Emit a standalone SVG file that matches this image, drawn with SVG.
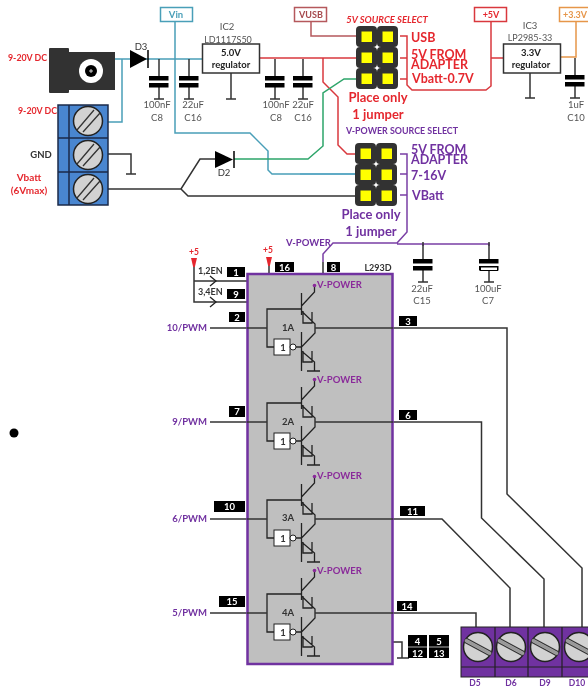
<svg xmlns="http://www.w3.org/2000/svg" xmlns:xlink="http://www.w3.org/1999/xlink" width="588" height="687" viewBox="0 0 588 687">
<style>
text{font-family:"Lato","Open Sans","Liberation Sans",sans-serif;font-weight:700}
.m{text-anchor:middle}.e{text-anchor:end}
.w{fill:none;stroke-width:1.5;stroke-linejoin:miter}
.k{stroke:#333}.t{stroke:#4a9fb8}.r{stroke:#d9383e}.g{stroke:#2ea56a}.p{stroke:#7a3fa5}.o{stroke:#e6964a}.v{stroke:#b5585c}.b2{stroke:#2b8fb3}
.red{fill:#e5282e}.pur{fill:#7030a0}.mag{fill:#8a2a9a;font-size:9.5px}
.val{fill:#555;font-size:9.5px;font-weight:400}.blk{fill:#333}
.bad{fill:#000}.bt{fill:#fff;font-size:9.5px;text-anchor:middle}
.box{fill:#fff;stroke-width:1.5}
.h1{font-size:12.5px}.h2{font-size:13px}
</style>
<defs>
<filter id="soft" x="0" y="0" width="100%" height="100%"><feGaussianBlur stdDeviation="0.35"/></filter>
<g id="screw"><circle r="14.5" fill="#d2d2d2" stroke="#222" stroke-width="1.5"/><path d="M-11 9 6-11M-5 11 12-8" stroke="#333" stroke-width="1.3" fill="none"/></g>
<g id="screw2"><circle r="14.5" fill="#d2d2d2" stroke="#222" stroke-width="1.5"/><path d="M-13-7 13 7" stroke="#999" stroke-width="3"/><path d="M-14-5 12 9M-12-9 14 5" stroke="#333" stroke-width="1.3" fill="none"/></g>
<g id="cap"><path d="M0 0V18M0 28V40M-5 40H5" fill="none" stroke="#333" stroke-width="1.5"/><rect x="-10" y="17" width="19.500" height="4.500" fill="#000"/><rect x="-10" y="24" width="19.500" height="4.500" fill="#000"/></g>
<g id="hdr"><rect x="-11" y="-11" width="21" height="21" rx="4" fill="#333"/><rect x="-5.500" y="-5.500" width="10.500" height="10.500" fill="#ffff00"/></g>
<g id="unit">
<path d="M267 328V309H301M267 328V347H274M296 347H301" fill="none" stroke="#222" stroke-width="1.3"/>
<rect x="274" y="339" width="16" height="16" fill="#fff" stroke="#222"/>
<circle cx="293" cy="347" r="3" fill="#fff" stroke="#222"/>
<path d="M301.500 293V315M301.500 332V371M301.500 306 314.500 292V286M301.500 311 315 324V333L301.500 347M301.500 351 314.500 362V371M307 371H320M303 311V323H312V312M303 351V362H312V351" fill="none" stroke="#222" stroke-width="1.300"/>
<circle cx="314.500" cy="285.500" r="1.800" fill="#8a2a9a"/>
</g>
<path id="ch" d="M-6-5 0 0-6 5" fill="none" stroke="#222" stroke-width="1.300"/>
<path id="arr" d="M-3-5H3L.8 4H-.8Z" fill="#e5282e"/>
</defs>
<g filter="url(#soft)">
<rect width="588" height="687" fill="#fff"/>
<circle id="dot" cx="14" cy="433" r="4.500" fill="#000"/>

<g id="connectors">
<path class="w t" d="M115 59H203M122 59V122H108"/>
<path class="w t" d="M175 22V133H250L268 151V170L272 174H300"/>
<path class="w b2" d="M300 174H357"/>
<path class="w r" d="M260 58H357M323 58V82L338 97V145L347 154H357"/>
<path class="w g" d="M234 159H308L323 146V93L344 79H357"/>
<path class="w k" d="M108 189H181L200 159H215M181 189 188 196H357"/>
<path class="w k" d="M108 154H131V174M126 174H136"/>
<path class="w v" d="M311 22V36H357"/>
<path class="w r" d="M400 36H407V85L412 90H486L491 86V22M400 58H407M400 79H407M491 58H503"/>
<path class="w o" d="M560 57H576V22"/>
<path class="w p" d="M400 154H407V232L397 243H333L323 254V262M407 174H400M407 195H400M397 244H489V246M423 244V246"/>
<path class="w k" d="M269 263V274M323 262V274M194 265V302H247M194 281H247M210 328H247M210 422H247M210 519H247M210 613H247"/>
<path class="w k" d="M393 642H402V658M397 658H409"/>
<path class="w k" d="M393 328H507V494L582 568V627M393 422H481.500V518L544 579V627M393 519H442L510 588V627M393 613H476V627"/>
</g>

<g id="power-jack"><rect x="49" y="48" width="20" height="45" rx="1" fill="#333"/><rect x="69" y="52" width="46" height="38" fill="#333"/><circle cx="91" cy="71" r="12" fill="#fff"/><circle cx="91" cy="71" r="6" fill="#000"/><path d="M91 69v4M89 71h4" stroke="#fff" stroke-width=".8"/>
<text x="8" y="61" class="red" font-size="8.800">9-20V DC</text></g>

<g id="terminal-blue"><rect x="58" y="105" width="50" height="100" fill="#4a86d0" stroke="#1a2a4a" stroke-width="1.500"/><path d="M69 105V205M58 138H108M58 172H108" stroke="#1a2a4a" stroke-width="1.500"/>
<use href="#screw" x="88" y="121"/><use href="#screw" x="88" y="155"/><use href="#screw" x="88" y="189"/>
<text x="18" y="113.500" class="red" font-size="8.800">9-20V DC</text>
<text x="41" y="158" class="m blk" font-size="9.500">GND</text>
<text x="29" y="181" class="m red" font-size="10">Vbatt</text>
<text x="29" y="194" class="m red" font-size="10">(6Vmax)</text></g>

<g id="D3"><path d="M130 50 147 59 130 68Z" fill="#000"/><path d="M148 50V68" stroke="#000" stroke-width="1.500"/><text x="141" y="50" class="m" fill="#333" font-size="9.500" style="font-weight:400">D3</text></g>
<g id="D2"><path d="M215 151 233 159.500 215 168Z" fill="#000"/><path d="M234 151V168" stroke="#000" stroke-width="1.500"/><text x="224" y="176" class="m" fill="#333" font-size="9.500" style="font-weight:400">D2</text></g>

<g id="Vin"><rect x="160.500" y="7.500" width="32" height="14" class="box t"/><text x="176" y="18" class="m" fill="#4a9fb8" font-size="9.500">Vin</text></g>
<g id="VUSB"><rect x="294.500" y="7.500" width="32" height="14" class="box v"/><text x="311" y="18" class="m" fill="#a5484c" font-size="9">VUSB</text></g>
<g id="p5V"><rect x="474.500" y="7.500" width="32" height="14" class="box r"/><text x="491" y="18" class="m red" font-size="9">+5V</text></g>
<g id="p3V3"><rect x="559.500" y="7.500" width="32" height="14" class="box o"/><text x="575" y="18" class="m" fill="#e6964a" font-size="9">+3.3V</text></g>

<g id="IC2"><text x="227" y="30" class="m val">IC2</text><text x="228" y="42.500" class="m val" style="font-size:9px">LD1117S50</text><rect x="202.500" y="44" width="57" height="29" class="box" stroke="#333"/><text x="231" y="56" class="m" fill="#222" font-size="9.500">5.0V</text><text x="231" y="68" class="m" fill="#222" font-size="9.500">regulator</text><path class="w k" d="M231 73V99M226 99H236"/></g>
<g id="IC3"><text x="530" y="29" class="m val">IC3</text><text x="530" y="41" class="m val" style="font-size:9px">LP2985-33</text><rect x="503.500" y="44" width="57" height="29" class="box" stroke="#333"/><text x="531" y="56" class="m" fill="#222" font-size="9.500">3.3V</text><text x="531" y="68" class="m" fill="#222" font-size="9.500">regulator</text><path class="w k" d="M530 73V98M525 98H535"/></g>

<g id="C8a"><use href="#cap" x="159" y="59"/><text x="157" y="108" class="m val">100nF</text><text x="157" y="121" class="m val">C8</text></g>
<g id="C16a"><use href="#cap" x="189" y="59"/><text x="193" y="108" class="m val">22uF</text><text x="193" y="121" class="m val">C16</text></g>
<g id="C8b"><use href="#cap" x="275" y="59"/><text x="276" y="108" class="m val">100nF</text><text x="276" y="121" class="m val">C8</text></g>
<g id="C16b"><use href="#cap" x="303" y="59"/><text x="303" y="108" class="m val">22uF</text><text x="303" y="121" class="m val">C16</text></g>
<g id="C10"><use href="#cap" x="575" y="58"/><text x="576" y="108" class="m val">1uF</text><text x="576" y="121" class="m val">C10</text></g>
<g id="C15"><use href="#cap" x="423" y="242"/><text x="422" y="292" class="m val">22uF</text><text x="422" y="304" class="m val">C15</text></g>
<g id="C7"><use href="#cap" x="489" y="242"/><rect x="480.500" y="267" width="17" height="3.500" fill="#fff" stroke="#000"/><text x="488" y="292" class="m val">100uF</text><text x="488" y="304" class="m val">C7</text></g>

<g id="header-5v"><use href="#hdr" x="367" y="37"/><use href="#hdr" x="388" y="37"/><use href="#hdr" x="367" y="58"/><use href="#hdr" x="388" y="58"/><use href="#hdr" x="367" y="79"/><use href="#hdr" x="388" y="79"/>
<text x="387" y="23" class="m red" font-size="9.500" font-style="italic">5V SOURCE SELECT</text>
<text x="411" y="41.500" class="red h1">USB</text><text class="red h1"><tspan x="411" y="58.500">5V FROM</tspan><tspan x="411" y="68.500">ADAPTER</tspan></text><text x="412" y="83" class="red h1">Vbatt-0.7V</text>
<text x="378" y="102" class="m red h2">Place only</text><text x="378" y="119" class="m red h2">1 jumper</text></g>

<g id="header-vpower"><use href="#hdr" x="366" y="154"/><use href="#hdr" x="387" y="154"/><use href="#hdr" x="366" y="175"/><use href="#hdr" x="387" y="175"/><use href="#hdr" x="366" y="196"/><use href="#hdr" x="387" y="196"/>
<text x="402" y="134" class="m pur" font-size="8.900">V-POWER SOURCE SELECT</text>
<text class="pur h1"><tspan x="411" y="154">5V FROM</tspan><tspan x="411" y="164">ADAPTER</tspan></text><text x="411" y="180" class="pur h1">7-16V</text><text x="412" y="200" class="pur h1">VBatt</text>
<text x="371" y="219" class="m pur h2">Place only</text><text x="371" y="236" class="m pur h2">1 jumper</text></g>

<g id="L293D"><rect x="247.500" y="274" width="145" height="390" fill="#bfbfbf" stroke="#7030a0" stroke-width="2.500"/>
<use href="#unit"/><use href="#unit" y="94"/><use href="#unit" y="191"/><use href="#unit" y="285"/>
<path class="w k" d="M247 328H267M247 422H267M247 519H267M247 613H267M315 328H393M315 422H393M315 519H393M315 613H393"/>
<use href="#ch" x="216" y="281"/><use href="#ch" x="216" y="302"/>
<use href="#arr" x="194" y="263"/><use href="#arr" x="269" y="262"/>
<text x="194" y="255" class="m red" font-size="8.500">+5</text><text x="268" y="253" class="m red" font-size="8.500">+5</text>
<text x="198" y="274" class="blk" font-size="9">1,2EN</text><text x="198" y="295" class="blk" font-size="9">3,4EN</text>
<text x="286" y="246" class="pur" font-size="9.500">V-POWER</text>
<text x="378" y="271" class="m blk" font-size="9">L293D</text>
<text x="317" y="288" class="mag">V-POWER</text><text x="317" y="383" class="mag">V-POWER</text><text x="317" y="479" class="mag">V-POWER</text><text x="317" y="574" class="mag">V-POWER</text>
<text x="288" y="331" class="m blk" font-size="9.500">1A</text><text x="288" y="425" class="m blk" font-size="9.500">2A</text><text x="288" y="521" class="m blk" font-size="9.500">3A</text><text x="288" y="616" class="m blk" font-size="9.500">4A</text>
<text x="283" y="351" class="m blk" font-size="9.500">1</text><text x="283" y="445" class="m blk" font-size="9.500">1</text><text x="283" y="542" class="m blk" font-size="9.500">1</text><text x="283" y="636" class="m blk" font-size="9.500">1</text>
<text x="207" y="331" class="e pur" font-size="9.500">10/PWM</text><text x="207" y="425" class="e pur" font-size="9.500">9/PWM</text><text x="207" y="522" class="e pur" font-size="9.500">6/PWM</text><text x="207" y="616" class="e pur" font-size="9.500">5/PWM</text>
<rect class="bad" x="227" y="267" width="18" height="10"/><text class="bt" x="236" y="275.500">1</text>
<rect class="bad" x="227" y="289" width="18" height="10"/><text class="bt" x="236" y="297.500">9</text>
<rect class="bad" x="275" y="262" width="19" height="10"/><text class="bt" x="284.500" y="270.500">16</text>
<rect class="bad" x="327" y="262" width="13" height="10"/><text class="bt" x="333.500" y="270.500">8</text>
<rect class="bad" x="229" y="312" width="16" height="10"/><text class="bt" x="237" y="320.500">2</text>
<rect class="bad" x="229" y="406" width="16" height="11"/><text class="bt" x="237" y="415">7</text>
<rect class="bad" x="214" y="501" width="31" height="11"/><text class="bt" x="229.500" y="510">10</text>
<rect class="bad" x="219" y="596" width="26" height="11"/><text class="bt" x="232" y="605">15</text>
<rect class="bad" x="399" y="316" width="18" height="10"/><text class="bt" x="408" y="324.500">3</text>
<rect class="bad" x="399" y="410" width="18" height="10"/><text class="bt" x="408" y="418.500">6</text>
<rect class="bad" x="400" y="506" width="25" height="10"/><text class="bt" x="412.500" y="514.500">11</text>
<rect class="bad" x="397" y="601" width="20" height="10"/><text class="bt" x="407" y="609.500">14</text>
<rect class="bad" x="408" y="635" width="19" height="23"/><rect class="bad" x="429" y="635" width="20" height="23"/><path d="M408 647H449" stroke="#fff" stroke-width=".7"/>
<text class="bt" x="417.500" y="645">4</text><text class="bt" x="417.500" y="656.500">12</text><text class="bt" x="439" y="645">5</text><text class="bt" x="439" y="656.500">13</text>
</g>

<g id="terminal-purple"><rect x="461" y="627" width="130" height="50" fill="#7030a0" stroke="#222"/><path d="M495 627V677M528 627V677M562 627V677M461 667H591" stroke="#222" stroke-width="1.200"/>
<use href="#screw2" x="478" y="647"/><use href="#screw2" x="511" y="647"/><use href="#screw2" x="545" y="647"/><use href="#screw2" x="579" y="647"/>
<text x="475" y="686" class="m pur" font-size="8.500">D5</text><text x="511" y="686" class="m pur" font-size="8.500">D6</text><text x="545" y="686" class="m pur" font-size="8.500">D9</text><text x="577" y="686" class="m pur" font-size="8.500">D10</text></g>
</g>
</svg>
